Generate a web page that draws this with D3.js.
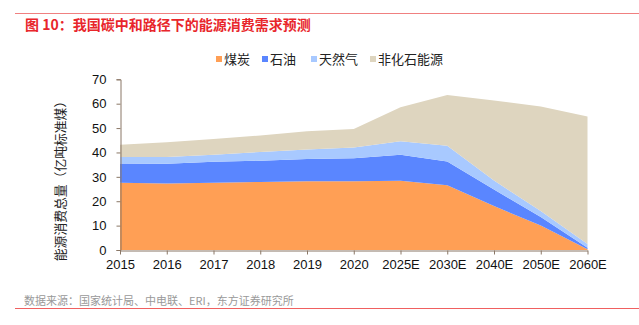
<!DOCTYPE html>
<html>
<head>
<meta charset="utf-8">
<script src="https://cdn.jsdelivr.net/npm/d3@7"></script>
<style>
  body { margin: 0; background: #fff; }
  svg { display: block; font-family: "Liberation Sans", Arial, sans-serif; }
</style>
</head>
<body>
<svg id="chart" width="639" height="325"></svg>
<script>
const years = ['2015', '2016', '2017', '2018', '2019', '2020', '2025E', '2030E', '2040E', '2050E', '2060E'];
const coal = [27.6, 27.3, 27.6, 27.9, 28.2, 28.2, 28.4, 26.6, 18.0, 10.0, 0.3];
const oil = [7.9, 8.1, 8.6, 8.7, 9.1, 9.4, 10.7, 9.7, 6.8, 3.5, 0.6];
const gas = [2.6, 2.7, 2.9, 3.6, 3.9, 4.4, 5.5, 6.5, 3.7, 2.5, 1.6];
const nonFossil = [5.1, 6.1, 6.4, 6.8, 7.5, 7.6, 13.9, 20.8, 32.8, 42.8, 52.2];
const seriesNames = ['煤炭', '石油', '天然气', '非化石能源'];
const yTicks = [0, 10, 20, 30, 40, 50, 60, 70];

const COLORS = ['#FF9F55', '#5A86FF', '#A8C9FF', '#DED5BF'];
const AXIS_COLOR = '#8a7766';
const CJK = '"Noto Sans CJK SC", sans-serif';

const svg = d3.select('#chart');

// header / footer lines
svg.append('line').attr('x1', 15).attr('x2', 639).attr('y1', 13.5).attr('y2', 13.5)
  .attr('stroke', '#f08080').attr('stroke-width', 1);
svg.append('line').attr('x1', 15).attr('x2', 639).attr('y1', 308.5).attr('y2', 308.5)
  .attr('stroke', '#f06060').attr('stroke-width', 1);

svg.append('text').text('图 10：我国碳中和路径下的能源消费需求预测')
  .attr('x', 25).attr('y', 29.5)
  .attr('fill', '#e8262b')
  .style('font-family', CJK)
  .style('font-size', '14px').style('font-weight', 'bold');

svg.append('text').text('数据来源：国家统计局、中电联、ERI，东方证券研究所')
  .attr('x', 24).attr('y', 304.5)
  .attr('fill', '#999')
  .style('font-family', CJK)
  .style('font-size', '11px');

// table for stacking
const table = years.map((y, i) => ({ year: y, 0: coal[i], 1: oil[i], 2: gas[i], 3: nonFossil[i] }));
const stacked = d3.stack().keys([0, 1, 2, 3])(table);

const X = d3.scalePoint().domain(years).range([120, 587.5]).padding(0);
const Y = d3.scaleLinear().domain([0, 70]).range([250, 79.3]);

const area = d3.area()
  .x(d => X(d.data.year))
  .y0(d => Y(d[0]))
  .y1(d => Y(d[1]));

svg.append('g').selectAll('path')
  .data(stacked)
  .join('path')
  .attr('d', area)
  .attr('fill', (d, i) => COLORS[i]);

// y axis
const yAxis = svg.append('g').attr('transform', 'translate(120.5,0)')
  .call(d3.axisLeft(Y).tickValues(yTicks).tickSize(4).tickPadding(10));
yAxis.selectAll('text').style('font-size', '13px').attr('fill', '#111');

// x axis
const xAxis = svg.append('g').attr('transform', 'translate(0,250.5)')
  .call(d3.axisBottom(X).tickSize(4).tickSizeOuter(0).tickPadding(5));
xAxis.selectAll('text').style('font-size', '13px').attr('fill', '#111');

[yAxis, xAxis].forEach(a => {
  a.select('.domain').attr('stroke', AXIS_COLOR);
  a.selectAll('.tick line').attr('stroke', AXIS_COLOR);
});

// y label
svg.append('text').text('能源消费总量（亿吨标准煤）')
  .attr('transform', 'translate(61,178) rotate(-90)')
  .attr('text-anchor', 'middle')
  .attr('dy', '0.35em')
  .attr('fill', '#222')
  .style('font-family', CJK)
  .style('font-size', '12.8px');

// legend
const legendX = [216, 262, 311, 370];
const legend = svg.append('g').selectAll('g')
  .data(seriesNames)
  .join('g')
  .attr('transform', (d, i) => `translate(${legendX[i]},60)`);
legend.append('rect').attr('x', 0).attr('y', -4).attr('width', 6).attr('height', 6)
  .attr('fill', (d, i) => COLORS[i]);
legend.append('text').text(d => d)
  .attr('x', 8).attr('y', 4)
  .attr('fill', '#222')
  .style('font-family', CJK)
  .style('font-size', '13px');
</script>
</body>
</html>
